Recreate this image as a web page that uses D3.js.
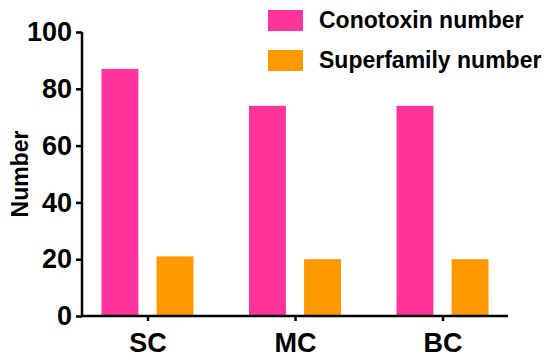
<!DOCTYPE html>
<html lang="en">
<head>
    <meta charset="UTF-8">
    <script src="https://d3js.org/d3.v7.min.js"></script>
    <style>
        body { margin: 0; background: white; }
        text { font-family: "Liberation Sans", Arial, sans-serif; font-weight: bold; }
    </style>
</head>
<body>
    <script type="text/javascript">

        const w = 550;
        const h = 361;

        // data
        const categories = ["SC", "MC", "BC"];
        const seriesNames = ["Conotoxin number", "Superfamily number"];
        const conotoxin = [87, 74, 74];
        const superfamily = [21, 20, 20];
        const yTicks = [0, 20, 40, 60, 80, 100];
        const colors = ["#ff3399", "#ff9900"];

        const rows = categories.map((c, i) => ({ cat: c, values: [conotoxin[i], superfamily[i]] }));

        const svg = d3.select("body")
            .append("svg")
            .attr("width", w)
            .attr("height", h);

        const xScale = d3.scalePoint()
            .domain(categories)
            .range([82, 508])
            .padding(0.444);

        const xInner = d3.scaleBand()
            .domain(seriesNames)
            .range([-46, 46])
            .paddingInner(0.33);

        const yScale = d3.scaleLinear()
            .domain([0, 100])
            .range([316, 32]);

        // bars
        const groups = svg.selectAll(".grp")
            .data(rows)
            .enter()
            .append("g")
            .attr("class", "grp")
            .attr("transform", d => "translate(" + xScale(d.cat) + ",0)");

        groups.selectAll("rect")
            .data(d => d.values.map((v, j) => ({ s: seriesNames[j], v: v, j: j })))
            .enter()
            .append("rect")
            .attr("x", d => xInner(d.s))
            .attr("width", xInner.bandwidth())
            .attr("y", d => yScale(d.v))
            .attr("height", d => yScale(0) - yScale(d.v))
            .style("fill", d => colors[d.j]);

        // axes
        const yAxis = d3.axisLeft(yScale).tickValues(yTicks).tickSize(6).tickPadding(4);
        const xAxis = d3.axisBottom(xScale).tickSize(5).tickPadding(12).tickSizeOuter(0);

        const yg = svg.append("g")
            .attr("transform", "translate(82,0)")
            .call(yAxis);
        yg.select(".domain").attr("d", "M0," + yScale(100) + "V" + yScale(0));

        const xg = svg.append("g")
            .attr("transform", "translate(0,316)")
            .call(xAxis);
        xg.select(".domain").attr("d", "M82,0H508");

        svg.selectAll(".domain, .tick line")
            .style("stroke", "black")
            .style("stroke-width", 2.5);
        svg.selectAll(".tick text")
            .style("font-size", "27px")
            .style("font-family", "'Liberation Sans', Arial, sans-serif")
            .style("font-weight", "bold")
            .style("fill", "black");

        // y title
        svg.append("text")
            .attr("transform", "rotate(-90)")
            .attr("x", -174)
            .attr("y", 28)
            .attr("text-anchor", "middle")
            .style("font-size", "23px")
            .text("Number");

        // legend
        const legend = svg.append("g").attr("id", "legend");
        seriesNames.forEach((s, i) => {
            legend.append("rect")
                .attr("x", 268)
                .attr("y", 10 + i * 40)
                .attr("width", 35)
                .attr("height", 21)
                .style("fill", colors[i]);
            legend.append("text")
                .attr("x", 319)
                .attr("y", 28 + i * 40)
                .style("font-size", "23px")
                .text(s);
        });

    </script>
</body>
</html>
